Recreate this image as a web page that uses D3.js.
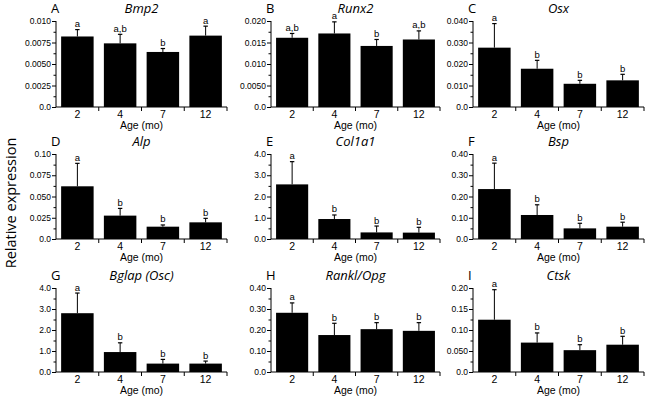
<!DOCTYPE html>
<html>
<head>
<meta charset="utf-8">
<script src="https://cdn.jsdelivr.net/npm/d3@7"></script>
<style>
  html, body { margin: 0; padding: 0; background: #fff; }
  svg { display: block; }
</style>
</head>
<body>
<svg id="chart" width="648" height="401"></svg>
<script>
// ---------- data ----------
const categories = ["2", "4", "7", "12"];
const panelLetters = ["A", "B", "C", "D", "E", "F", "G", "H", "I"];
const genes = ["Bmp2", "Runx2", "Osx", "Alp", "Col1a1", "Bsp", "Bglap (Osc)", "Rankl/Opg", "Ctsk"];

const meanBmp2 = [0.0082, 0.0074, 0.0064, 0.0083];
const semBmp2 = [0.0008, 0.00105, 0.0004, 0.0011];
const letBmp2 = ["a", "a,b", "b", "a"];

const meanRunx2 = [0.0161, 0.0171, 0.0142, 0.0157];
const semRunx2 = [0.0010, 0.0027, 0.0015, 0.0020];
const letRunx2 = ["a,b", "a", "b", "a,b"];

const meanOsx = [0.0276, 0.0178, 0.0108, 0.0124];
const semOsx = [0.0112, 0.0039, 0.0016, 0.0028];
const letOsx = ["a", "b", "b", "b"];

const meanAlp = [0.062, 0.0275, 0.0145, 0.0196];
const semAlp = [0.027, 0.0085, 0.002, 0.0047];
const letAlp = ["a", "b", "b", "b"];

const meanCol1a1 = [2.57, 0.94, 0.31, 0.30];
const semCol1a1 = [1.07, 0.19, 0.30, 0.25];
const letCol1a1 = ["a", "b", "b", "b"];

const meanBsp = [0.235, 0.113, 0.050, 0.058];
const semBsp = [0.122, 0.048, 0.024, 0.021];
const letBsp = ["a", "b", "b", "b"];

const meanBglap = [2.80, 0.95, 0.40, 0.40];
const semBglap = [0.96, 0.44, 0.20, 0.12];
const letBglap = ["a", "b", "b", "b"];

const meanRankl = [0.282, 0.176, 0.204, 0.196];
const semRankl = [0.047, 0.056, 0.031, 0.039];
const letRankl = ["a", "b", "b", "b"];

const meanCtsk = [0.1245, 0.070, 0.052, 0.065];
const semCtsk = [0.0715, 0.023, 0.013, 0.020];
const letCtsk = ["a", "b", "b", "b"];

const ticksBmp2 = [0, 0.0025, 0.005, 0.0075, 0.010];
const labelsBmp2 = ["0.0", "0.0025", "0.0050", "0.0075", "0.010"];
const ticksRunx2 = [0, 0.005, 0.010, 0.015, 0.020];
const labelsRunx2 = ["0.0", "0.0050", "0.010", "0.015", "0.020"];
const ticksOsx = [0, 0.010, 0.020, 0.030, 0.040];
const labelsOsx = ["0.0", "0.010", "0.020", "0.030", "0.040"];
const ticksAlp = [0, 0.025, 0.050, 0.075, 0.10];
const labelsAlp = ["0.0", "0.025", "0.050", "0.075", "0.10"];
const ticksCol = [0, 1, 2, 3, 4];
const labelsCol = ["0.0", "1.0", "2.0", "3.0", "4.0"];
const ticksBsp = [0, 0.10, 0.20, 0.30, 0.40];
const labelsBsp = ["0.0", "0.10", "0.20", "0.30", "0.40"];
const ticksCtsk = [0, 0.05, 0.10, 0.15, 0.20];
const labelsCtsk = ["0.0", "0.050", "0.10", "0.15", "0.20"];

const xTitle = "Age (mo)";
const yTitle = "Relative expression";

// ---------- build panel table ----------
const panels = [
  { mean: meanBmp2, sem: semBmp2, lets: letBmp2, ticks: ticksBmp2, labels: labelsBmp2 },
  { mean: meanRunx2, sem: semRunx2, lets: letRunx2, ticks: ticksRunx2, labels: labelsRunx2 },
  { mean: meanOsx, sem: semOsx, lets: letOsx, ticks: ticksOsx, labels: labelsOsx },
  { mean: meanAlp, sem: semAlp, lets: letAlp, ticks: ticksAlp, labels: labelsAlp },
  { mean: meanCol1a1, sem: semCol1a1, lets: letCol1a1, ticks: ticksCol, labels: labelsCol },
  { mean: meanBsp, sem: semBsp, lets: letBsp, ticks: ticksBsp, labels: labelsBsp },
  { mean: meanBglap, sem: semBglap, lets: letBglap, ticks: ticksCol, labels: labelsCol },
  { mean: meanRankl, sem: semRankl, lets: letRankl, ticks: ticksBsp, labels: labelsBsp },
  { mean: meanCtsk, sem: semCtsk, lets: letCtsk, ticks: ticksCtsk, labels: labelsCtsk }
].map((p, i) => Object.assign(p, { letter: panelLetters[i], gene: genes[i] }));

// ---------- layout ----------
const colX = [[56, 227], [271, 440], [473, 644]];
const rowY = [[21, 107], [154, 239], [288, 372]];

const svg = d3.select("#chart");
const tickFont = "'Liberation Sans', Arial, sans-serif";
const titleFont = "'Open Sans', sans-serif";

panels.forEach((p, i) => {
  const col = i % 3, row = Math.floor(i / 3);
  const [x0, x1] = colX[col];
  const [y0, y1] = rowY[row];
  const g = svg.append("g");

  const x = d3.scaleBand().domain(categories).range([x0, x1])
    .paddingInner(0.24).paddingOuter(0.12);
  const ymax = p.ticks[p.ticks.length - 1];
  const y = d3.scaleLinear().domain([0, ymax]).range([y1, y0]);

  // bars
  g.selectAll("rect.bar").data(categories).enter().append("rect")
    .attr("x", d => x(d))
    .attr("width", x.bandwidth())
    .attr("y", (d, j) => y(p.mean[j]))
    .attr("height", (d, j) => y(0) - y(p.mean[j]))
    .attr("fill", "#000");

  // error bars (upward)
  const cw = 2.2;
  categories.forEach((c, j) => {
    const cx = x(c) + x.bandwidth() / 2;
    const top = y(p.mean[j] + p.sem[j]);
    g.append("line").attr("x1", cx).attr("x2", cx)
      .attr("y1", y(p.mean[j])).attr("y2", top)
      .attr("stroke", "#000").attr("stroke-width", 1);
    g.append("line").attr("x1", cx - cw).attr("x2", cx + cw)
      .attr("y1", top).attr("y2", top)
      .attr("stroke", "#000").attr("stroke-width", 1.2);
    g.append("text").attr("x", cx).attr("y", top - 2.5)
      .attr("text-anchor", "middle")
      .attr("font-family", tickFont).attr("font-size", 9.5)
      .text(p.lets[j]);
  });

  // y axis (major + minor ticks)
  const step = p.ticks[1] - p.ticks[0];
  const minor = p.ticks.slice(0, -1).map(t => t + step / 2);
  const yMinor = d3.axisLeft(y).tickValues(minor).tickSize(2.5).tickFormat("");
  g.append("g").attr("transform", `translate(${x0},0)`).call(yMinor)
    .call(s => s.select(".domain").remove());
  const yAxis = d3.axisLeft(y).tickValues(p.ticks).tickSize(4).tickPadding(1)
    .tickFormat((d, k) => p.labels[k]);
  const ya = g.append("g").attr("transform", `translate(${x0},0)`).call(yAxis);
  ya.select(".domain").attr("d", `M0,${y0}V${y1}`);
  ya.selectAll("text").attr("font-family", tickFont).attr("font-size", 8.5).attr("fill", "#000");
  ya.selectAll("line").attr("stroke", "#000");
  ya.select(".domain").attr("stroke", "#000");

  // x axis: line with ticks at band boundaries, labels centered
  const boundaries = categories.map(c => x(c) + x.bandwidth() + x.step() * 0.24 / 2);
  g.append("line").attr("x1", x0).attr("x2", x1).attr("y1", y1).attr("y2", y1)
    .attr("stroke", "#000").attr("stroke-width", 1);
  g.selectAll("line.xt").data(boundaries).enter().append("line")
    .attr("x1", d => d).attr("x2", d => d)
    .attr("y1", y1).attr("y2", y1 + 4)
    .attr("stroke", "#000").attr("stroke-width", 1);
  g.selectAll("text.xl").data(categories).enter().append("text")
    .attr("x", d => x(d) + x.bandwidth() / 2)
    .attr("y", y1 + 10.5)
    .attr("text-anchor", "middle")
    .attr("font-family", tickFont).attr("font-size", 10.5)
    .text(d => d);
  g.append("text")
    .attr("x", (x0 + x1) / 2).attr("y", y1 + 22)
    .attr("text-anchor", "middle")
    .attr("font-family", tickFont).attr("font-size", 10.5)
    .text(xTitle);

  // panel letter + title
  g.append("text").attr("x", x0 - 5).attr("y", y0 - 8)
    .attr("font-family", titleFont).attr("font-size", 13)
    .text(p.letter);
  g.append("text").attr("x", (x0 + x1) / 2).attr("y", y0 - 8)
    .attr("text-anchor", "middle")
    .attr("font-family", titleFont).attr("font-size", 13).attr("font-style", "italic")
    .text(p.gene);
});

svg.append("text")
  .attr("transform", "translate(15.5,203) rotate(-90)")
  .attr("text-anchor", "middle")
  .attr("font-family", titleFont).attr("font-size", 14.5)
  .text(yTitle);
</script>
</body>
</html>
